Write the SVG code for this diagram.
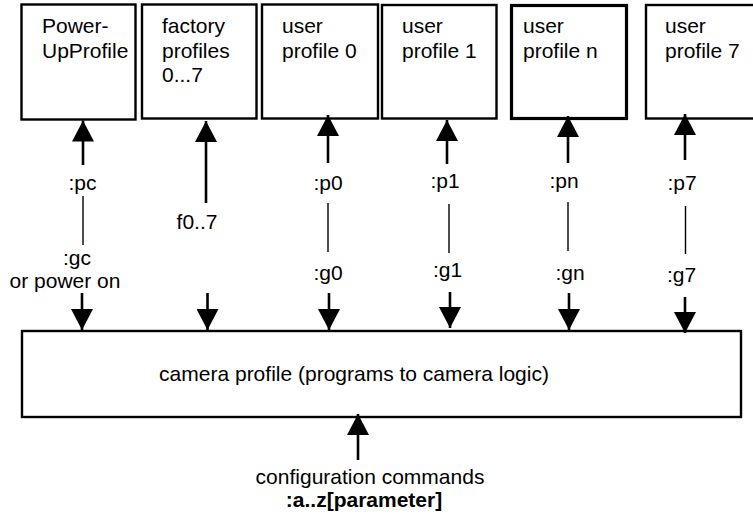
<svg xmlns="http://www.w3.org/2000/svg" width="753" height="517" viewBox="0 0 753 517">
<style>
text { font-family: "Liberation Sans", Arial, sans-serif; font-size: 21px; fill: #000; }
.c { text-anchor: middle; }
.b { font-weight: bold; }
.box { fill: #fff; stroke: #000; stroke-width: 2.4; }
.box5 { fill: #fff; stroke: #000; stroke-width: 3.2; }
.arr { stroke: #000; stroke-width: 2.6; fill: none; marker-end: url(#ah); }
.thin { stroke: #000; stroke-width: 1.4; fill: none; }
</style>
<defs>
<marker id="ah" markerUnits="userSpaceOnUse" markerWidth="22" markerHeight="22" refX="21" refY="11" orient="auto">
<path d="M0,0 L21,11 L0,22 Z" fill="#000"/>
</marker>
</defs>
<rect width="753" height="517" fill="#fff"/>
<g id="node-powerup">
<rect class="box" x="21.5" y="4.5" width="114" height="115"/>
<text x="42" y="33">Power-</text>
<text x="42" y="58">UpProfile</text>
</g>
<g id="node-factory">
<rect class="box" x="142" y="4.5" width="114.5" height="114"/>
<text x="162" y="33">factory</text>
<text x="162" y="57.5">profiles</text>
<text x="162" y="82">0...7</text>
</g>
<g id="node-user0">
<rect class="box" x="262" y="4.5" width="116" height="114"/>
<text x="282" y="33">user</text>
<text x="282" y="58">profile 0</text>
</g>
<g id="node-user1">
<rect class="box" x="382" y="5" width="114.5" height="113.5"/>
<text x="402" y="33">user</text>
<text x="402" y="58">profile 1</text>
</g>
<g id="node-usern">
<rect class="box5" x="511.5" y="5.5" width="115" height="113"/>
<text x="523" y="33">user</text>
<text x="523" y="58">profile n</text>
</g>
<g id="node-user7">
<rect class="box" x="646" y="5" width="115" height="113.5"/>
<text x="665" y="33">user</text>
<text x="665" y="58">profile 7</text>
</g>
<g id="node-camera">
<rect class="box" x="22" y="331" width="719" height="86"/>
<text class="c" x="354" y="381">camera profile (programs to camera logic)</text>
</g>
<g id="connectors">
<line class="arr" x1="83" y1="165" x2="83" y2="120.5"/>
<line class="arr" x1="206" y1="203" x2="206" y2="121"/>
<line class="arr" x1="328" y1="163" x2="328" y2="115"/>
<line class="arr" x1="447" y1="164" x2="447" y2="120"/>
<line class="arr" x1="568" y1="163" x2="568" y2="116"/>
<line class="arr" x1="685" y1="160" x2="685" y2="114"/>
<line class="thin" x1="83" y1="196" x2="83" y2="245"/>
<line class="thin" x1="328" y1="203" x2="328" y2="252"/>
<line class="thin" x1="449" y1="204" x2="449" y2="253"/>
<line class="thin" x1="568" y1="202" x2="568" y2="251"/>
<line class="thin" x1="685.5" y1="206" x2="685.5" y2="254"/>
<line class="arr" x1="82" y1="293" x2="82" y2="330"/>
<line class="arr" x1="207.5" y1="293" x2="207.5" y2="330"/>
<line class="arr" x1="329" y1="293" x2="329" y2="330"/>
<line class="arr" x1="450" y1="292" x2="450" y2="328"/>
<line class="arr" x1="569" y1="293" x2="569" y2="330"/>
<line class="arr" x1="685" y1="297" x2="685" y2="333"/>
<line class="arr" x1="358" y1="460" x2="358" y2="414"/>
</g>
<g id="labels">
<text class="c" x="82.5" y="190">:pc</text>
<text class="c" x="77" y="265">:gc</text>
<text class="c" x="65" y="288">or power on</text>
<text class="c" x="197" y="229">f0..7</text>
<text class="c" x="328" y="190">:p0</text>
<text class="c" x="328" y="280">:g0</text>
<text class="c" x="445" y="188">:p1</text>
<text class="c" x="447.5" y="277">:g1</text>
<text class="c" x="564" y="188">:pn</text>
<text class="c" x="570" y="280">:gn</text>
<text class="c" x="682" y="190">:p7</text>
<text class="c" x="681.5" y="281.5">:g7</text>
<text class="c" x="370" y="484">configuration commands</text>
<text class="c b" x="364" y="507">:a..z[parameter]</text>
</g>
</svg>
